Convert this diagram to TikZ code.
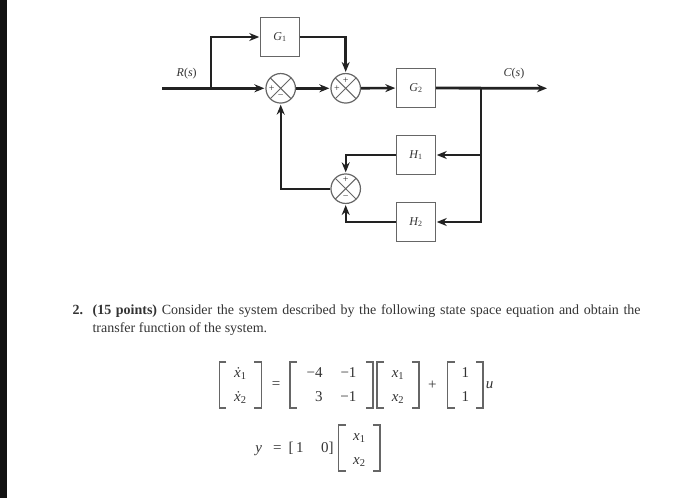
\documentclass[tikz,border=0pt]{standalone}
\usepackage{fontspec}
\setmainfont{Liberation Serif}
\usetikzlibrary{arrows.meta, positioning, calc}
\definecolor{cline}{HTML}{222222}
\definecolor{cbox}{HTML}{666666}
\definecolor{ctext}{HTML}{333333}
\newcommand{\sub}[1]{\textsubscript{\upshape #1}}
\tikzset{
  every picture/.style={line width=1.2pt},
  block/.style={draw=cbox, line width=1pt, minimum width=38.5pt, minimum height=38.5pt, inner sep=0pt, font=\itshape\fontsize{12}{14}\selectfont, text=ctext},
  sumjunction/.style={draw=cbox, line width=1.2pt, circle, minimum size=29.5pt, inner sep=0pt,
    path picture={\draw[cbox, line width=1pt] (path picture bounding box.north east) -- (path picture bounding box.south west)
      (path picture bounding box.north west) -- (path picture bounding box.south east);}},
  arrow/.style={-{Stealth[length=10pt, width=8pt]}, draw=cline, line width=2.4pt, shorten >=1pt},
  sign/.style={inner sep=0pt, font=\fontsize{10}{10}\selectfont, text=ctext},
  signal/.style={inner sep=0pt, font=\fontsize{12}{14}\selectfont, text=ctext},
  para/.style={inner sep=0pt, anchor=north west, align=justify, text=ctext, font=\fontsize{14}{18}\selectfont},
  eqn/.style={inner sep=0pt, text=ctext, font=\fontsize{15}{20.6}\selectfont},
  brk/.style={draw=cbox, line width=1.3pt},
}
\begin{document}
\begin{tikzpicture}[x=1pt, y=-1pt]
  \useasboundingbox (0, 0) rectangle (700, 498);
  \fill[black!93] (0, 0) rectangle (7, 498);
  \node[block] (g1) at (280, 37) {G\sub{1}};
  \node[block] (g2) at (416, 88) {G\sub{2}};
  \node[block] (h1) at (416, 155) {H\sub{1}};
  \node[block] (h2) at (416, 222) {H\sub{2}};
  \node[sumjunction] (sum1) at (280.7, 88.3) {};
  \node[sumjunction] (sum2) at (345.7, 88.3) {};
  \node[sumjunction] (sum3) at (345.7, 188.7) {};
  \node[sign] (s1a) at (271.7, 88.3) {+};
  \node[sign] (s1b) at (280.7, 97) {\textminus};
  \node[sign] (s2a) at (345.7, 81) {+};
  \node[sign] (s2b) at (337, 88.3) {+};
  \node[sign] (s3a) at (345.7, 180) {+};
  \node[sign] (s3b) at (345.7, 197.3) {\textminus};
  \coordinate (in) at (162, 88.3);
  \coordinate (branch) at (211, 88.3);
  \coordinate (tap) at (480.7, 88.3);
  \coordinate (out) at (548, 88.3);
  \node[signal] (rs) at (186.7, 74) {\textit{R}(\textit{s})};
  \node[signal] (cs) at (514, 74) {\textit{C}(\textit{s})};
  \draw[arrow] (in) -- (sum1);
  \draw[arrow] (branch) |- (g1);
  \draw[arrow, line width=2.8pt] (g1) -| (sum2);
  \draw[arrow] (sum1) -- (sum2);
  \draw[arrow, line width=2.6pt] (sum2) -- (g2);
  \draw[arrow, line width=2.8pt] (g2) -- (out);
  \draw[arrow] (tap) |- (h1);
  \draw[arrow] (tap) |- (h2);
  \draw[arrow] (h1) -| (sum3);
  \draw[arrow] (h2) -| (sum3);
  \draw[arrow] (sum3) -| (sum1);
  \node[para] (num) at (72, 301) {\strut\textbf{2.}};
  \node[para, text width=548pt] (task) at (92, 301) {\strut\textbf{(15 points)} Consider the system described by the following state space equation and obtain the\linebreak transfer function of the system.};
  \node[eqn, minimum width=40.7pt, minimum height=44pt] (b1) at (240.3, 385) {\begin{tabular}{@{}c@{}}\textit{\.x}\sub{1}\\[3.4pt]\textit{\.x}\sub{2}\end{tabular}};
  \node[eqn] (eq1) at (276, 385) {=};
  \node[eqn, minimum width=81.6pt, minimum height=44pt] (b2) at (331.5, 385) {\begin{tabular}{@{}r@{\hspace{18pt}}r@{}}\textminus4&\textminus1\\[3.4pt]3&\textminus1\end{tabular}};
  \node[eqn, minimum width=40.6pt, minimum height=44pt] (b3) at (398, 385) {\begin{tabular}{@{}c@{}}\textit{x}\sub{1}\\[3.4pt]\textit{x}\sub{2}\end{tabular}};
  \node[eqn] (plus) at (432.3, 385) {+};
  \node[eqn, minimum width=34pt, minimum height=44pt] (b4) at (465.3, 385) {\begin{tabular}{@{}c@{}}1\\[3.4pt]1\end{tabular}};
  \node[eqn] (u) at (489.5, 385) {\textit{u}};
  \node[eqn] (yrow) at (294.5, 449) {\textit{y}\hspace{11pt}=\hspace{7pt}[\hspace{2.5pt}1\hspace{17.5pt}0]};
  \node[eqn, minimum width=40pt, minimum height=44pt] (b5) at (359.3, 448) {\begin{tabular}{@{}c@{}}\textit{x}\sub{1}\\[3.4pt]\textit{x}\sub{2}\end{tabular}};
  \foreach \b in {b1, b2, b3, b4, b5} {
    \draw[brk] ($(\b.north west)+(7, 0)$) -- (\b.north west) -- (\b.south west) -- ++(7, 0);
    \draw[brk] ($(\b.north east)+(-7, 0)$) -- (\b.north east) -- (\b.south east) -- ++(-7, 0);
  }
\end{tikzpicture}
\end{document}
